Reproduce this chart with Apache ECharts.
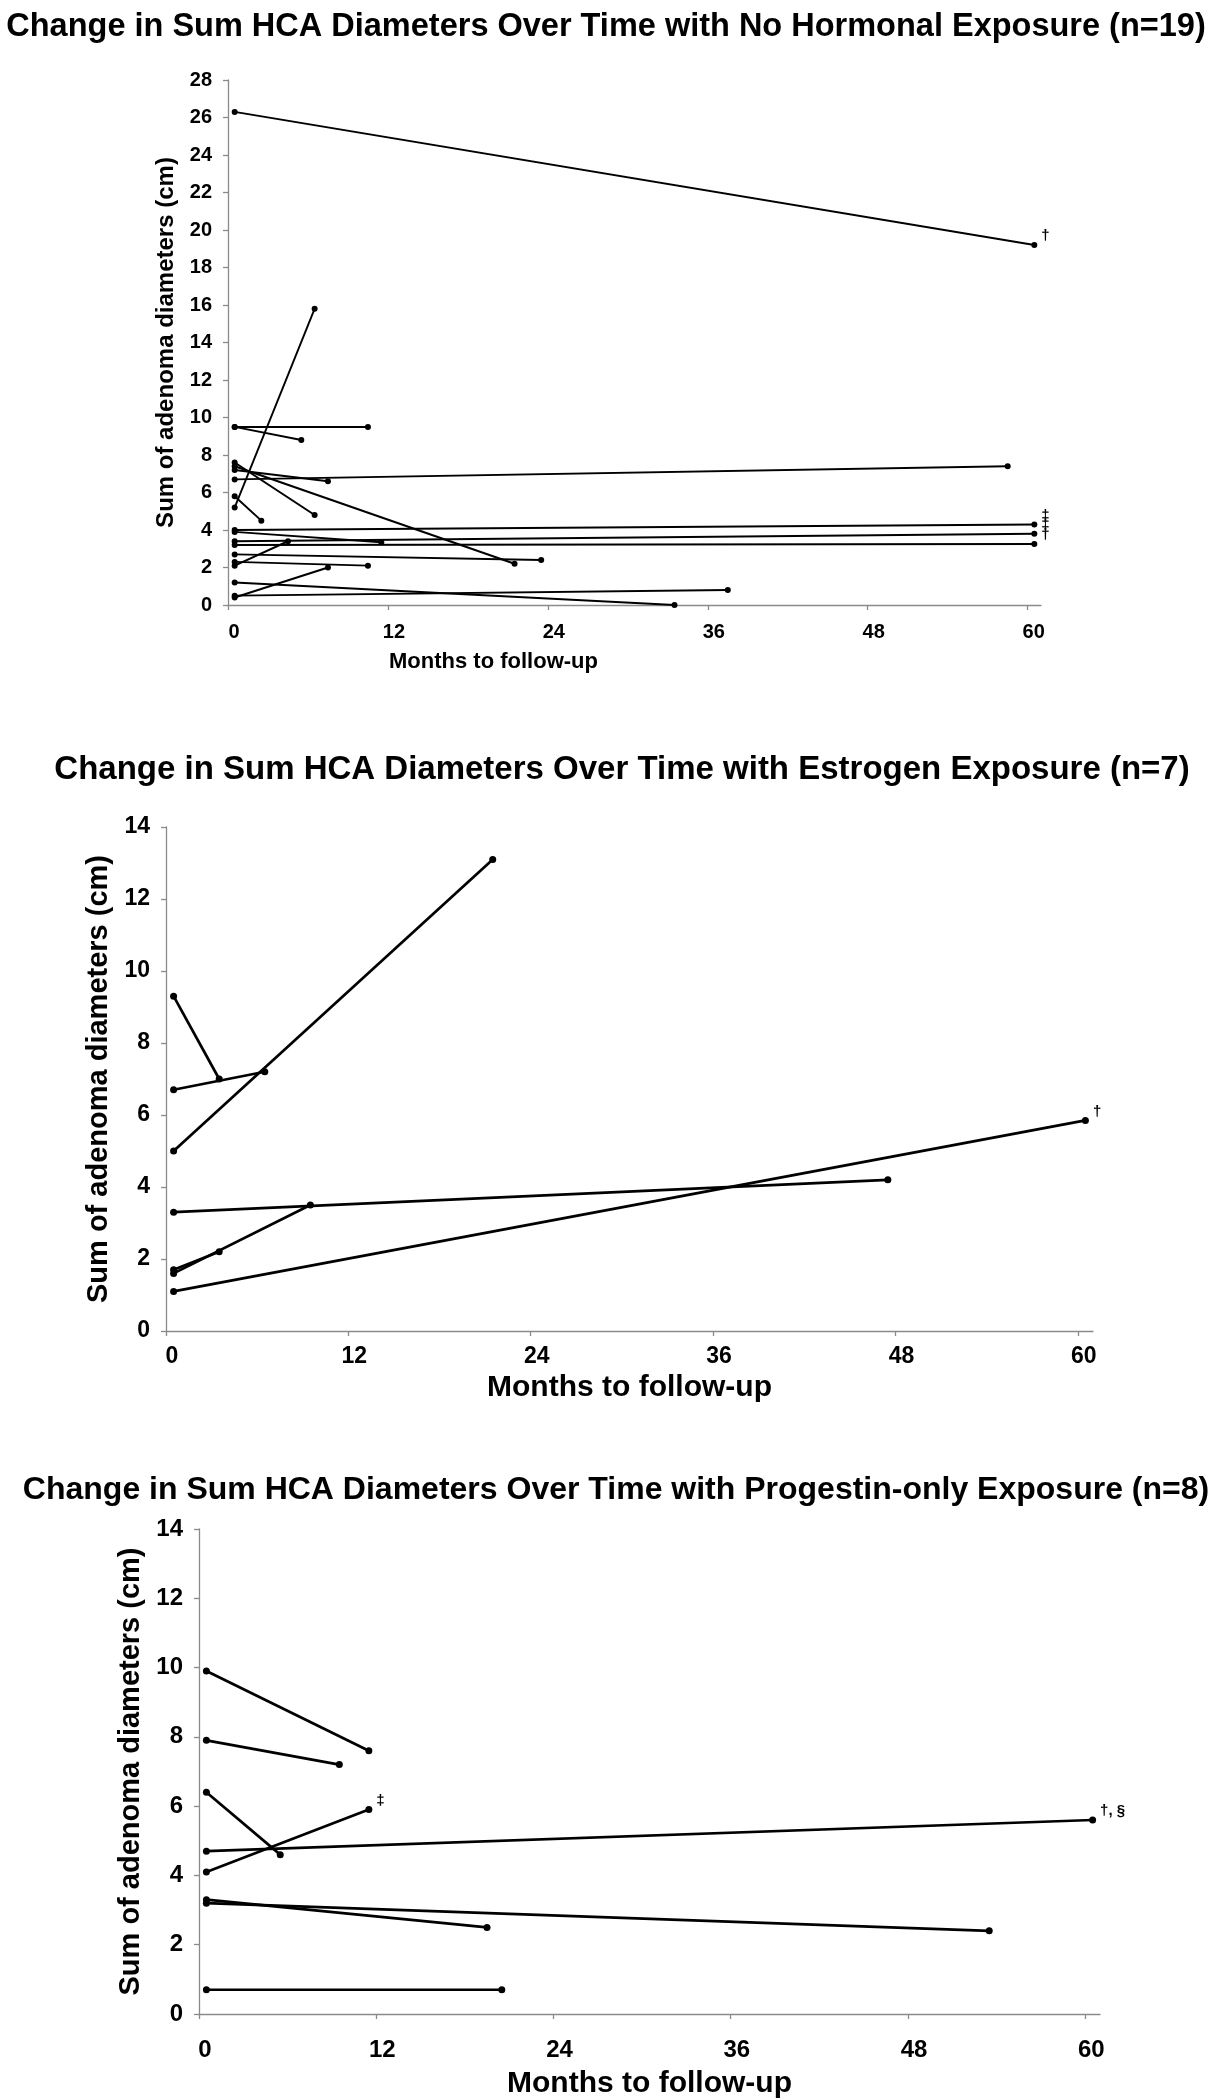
<!DOCTYPE html>
<html><head><meta charset="utf-8">
<script src="https://cdn.jsdelivr.net/npm/echarts/dist/echarts.min.js"></script>
<style>html,body{margin:0;padding:0;background:#fff}#c{width:1226px;height:2100px}</style>
</head><body><div id="c"></div>
<script>
// ---------- DATA ----------
const monthTicks = [0, 12, 24, 36, 48, 60];

// Panel 1: No hormonal exposure (n=19)
const noneStartMonth = [0.5,0.5,0.5,0.5,0.5,0.5,0.5,0.5,0.5,0.5,0.5,0.5,0.5,0.5,0.5,0.5,0.5,0.5,0.5];
const noneStartCm    = [26.3,5.2,5.8,9.5,9.5,7.6,7.4,6.7,7.2,4.0,3.4,3.2,3.9,2.1,2.7,2.3,0.4,1.2,0.5];
const noneEndMonth   = [60.5,6.5,2.5,10.5,5.5,6.5,21.5,58.5,7.5,60.5,60.5,60.5,11.5,4.5,23.5,10.5,7.5,33.5,37.5];
const noneEndCm      = [19.2,15.8,4.5,9.5,8.8,4.8,2.2,7.4,6.6,4.3,3.8,3.25,3.35,3.4,2.4,2.1,2.0,0.0,0.8];
const noneMark       = ['\u2020','','','','','','','','','\u2021','\u2021','\u2020','','','','','','',''];

// Panel 2: Estrogen exposure (n=7)
const estStartMonth = [0.5,0.5,0.5,0.5,0.5,0.5,0.5];
const estStartCm    = [9.3,6.7,5.0,3.3,1.7,1.6,1.1];
const estEndMonth   = [3.5,6.5,21.5,47.5,3.5,9.5,60.5];
const estEndCm      = [7.0,7.2,13.1,4.2,2.2,3.5,5.85];
const estMark       = ['','','','','','','\u2020'];

// Panel 3: Progestin-only exposure (n=8)
const proStartMonth = [0.5,0.5,0.5,0.5,0.5,0.5,0.5,0.5];
const proStartCm    = [9.9,7.9,6.4,4.1,4.7,3.3,3.2,0.7];
const proEndMonth   = [11.5,9.5,5.5,11.5,60.5,19.5,53.5,20.5];
const proEndCm      = [7.6,7.2,4.6,5.9,5.6,2.5,2.4,0.7];
const proMark       = ['','','','\u2021','\u2020, \u00a7','','',''];

const titles = [
  'Change in Sum HCA Diameters Over Time with No Hormonal Exposure (n=19)',
  'Change in Sum HCA Diameters Over Time with Estrogen Exposure (n=7)',
  'Change in Sum HCA Diameters Over Time with Progestin-only Exposure (n=8)'
];
const yName = 'Sum of adenoma diameters (cm)';
const xName = 'Months to follow-up';

// ---------- CHART ----------
const FONT = "'Liberation Sans', Arial, Helvetica, sans-serif";
const AXIS_COLOR = '#8a8a8a';

const panels = [
  {sm: noneStartMonth, sc: noneStartCm, em: noneEndMonth, ec: noneEndCm, mk: noneMark,
   grid: {left: 228, top: 80, width: 813, height: 525}, yMax: 28,
   tick: 20, xMargin: 17, yNameFont: 24, yGap: 45, xNameFont: 22, xGap: 46, xNamePad: [0, 282, 0, 0],
   lw: 2, sym: 6, titleTop: 6, titleX: 601, titleFont: 32.5},
  {sm: estStartMonth, sc: estStartCm, em: estEndMonth, ec: estEndCm, mk: estMark,
   grid: {left: 166, top: 827, width: 927, height: 504}, yMax: 14,
   tick: 23, xMargin: 14, yNameFont: 29, yGap: 52, xNameFont: 30, xGap: 42, xNamePad: [0, 0, 0, 0],
   lw: 2.7, sym: 7, titleTop: 748, titleX: 617, titleFont: 33},
  {sm: proStartMonth, sc: proStartCm, em: proEndMonth, ec: proEndCm, mk: proMark,
   grid: {left: 199, top: 1529, width: 901, height: 490}, yMax: 14,
   tick: 24, xMargin: 24, yNameFont: 29, yGap: 50, xNameFont: 30, xGap: 55, xNamePad: [0, 0, 0, 0],
   lw: 2.7, sym: 7, titleTop: 1469, titleX: 611, titleFont: 32}
];

const option = {
  animation: false,
  backgroundColor: '#ffffff',
  title: [], grid: [], xAxis: [], yAxis: [], series: []
};

panels.forEach((p, gi) => {
  option.title.push({
    text: titles[gi], left: p.titleX, top: p.titleTop, textAlign: 'center',
    textStyle: {fontFamily: FONT, fontWeight: 'bold', fontSize: p.titleFont, color: '#000'}
  });
  option.grid.push(Object.assign({containLabel: false}, p.grid));
  option.xAxis.push({
    type: 'value', gridIndex: gi, min: 0, max: 61,
    name: xName, nameLocation: 'middle', nameGap: p.xGap,
    nameTextStyle: {fontFamily: FONT, fontWeight: 'bold', fontSize: p.xNameFont, color: '#000', padding: p.xNamePad},
    axisLine: {show: true, lineStyle: {color: AXIS_COLOR, width: 1.3}},
    axisTick: {show: true, length: 5, customValues: monthTicks, lineStyle: {color: AXIS_COLOR, width: 1.3}},
    axisLabel: {customValues: monthTicks, fontFamily: FONT, fontWeight: 'bold', fontSize: p.tick, color: '#000',
                margin: p.xMargin, padding: [0, 0, 0, 12]},
    splitLine: {show: false}
  });
  option.yAxis.push({
    type: 'value', gridIndex: gi, min: 0, max: p.yMax, interval: 2,
    name: yName, nameLocation: 'middle', nameGap: p.yGap,
    nameTextStyle: {fontFamily: FONT, fontWeight: 'bold', fontSize: p.yNameFont, color: '#000'},
    axisLine: {show: true, lineStyle: {color: AXIS_COLOR, width: 1.3}},
    axisTick: {show: true, length: 5, lineStyle: {color: AXIS_COLOR, width: 1.3}},
    axisLabel: {fontFamily: FONT, fontWeight: 'bold', fontSize: p.tick, color: '#000', margin: 16},
    splitLine: {show: false}
  });
  p.sc.forEach((v, i) => {
    const endItem = {value: [p.em[i], p.ec[i]]};
    if (p.mk[i]) {
      endItem.label = {show: true, formatter: p.mk[i], position: 'right', distance: 4, offset: [0, -9],
        fontFamily: FONT, fontWeight: 'bold', fontSize: 15, color: '#000'};
    }
    option.series.push({
      type: 'line', xAxisIndex: gi, yAxisIndex: gi,
      symbol: 'circle', symbolSize: p.sym, showSymbol: true,
      lineStyle: {color: '#000', width: p.lw},
      itemStyle: {color: '#000'},
      label: {show: false},
      emphasis: {disabled: true},
      data: [[p.sm[i], v], endItem]
    });
  });
});

const chart = echarts.init(document.getElementById('c'), null, {renderer: 'canvas'});
chart.setOption(option);
</script>
</body></html>
